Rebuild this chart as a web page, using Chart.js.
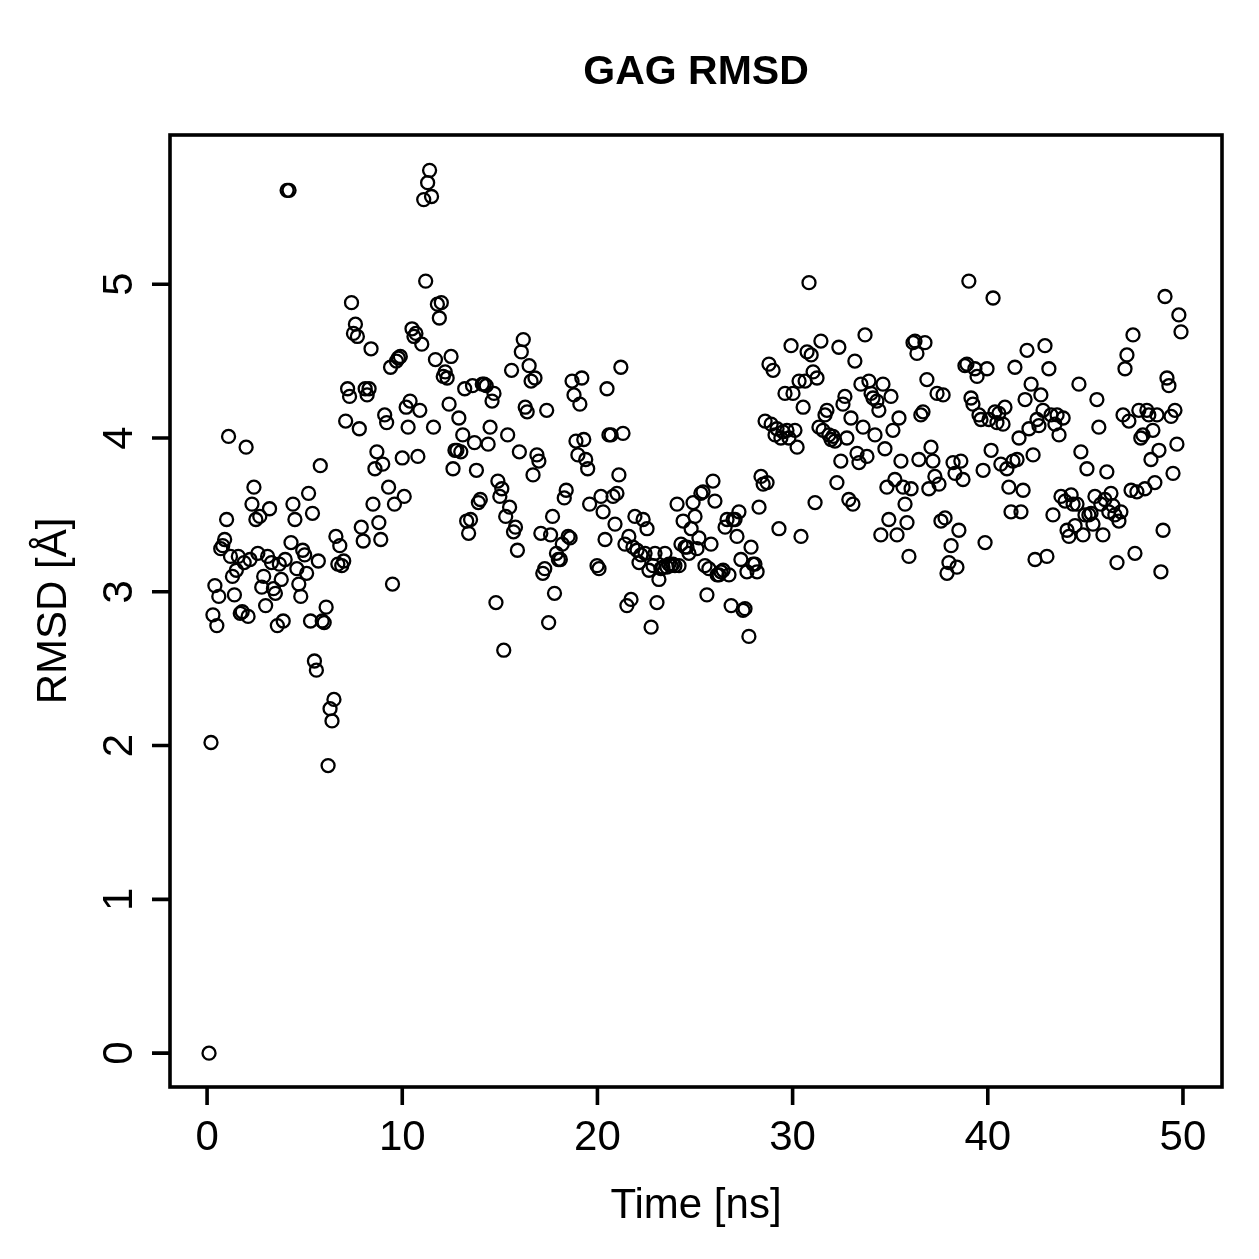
<!DOCTYPE html>
<html>
<head>
<meta charset="utf-8">
<title>GAG RMSD</title>
<script src="https://cdn.jsdelivr.net/npm/chart.js@4.4.1/dist/chart.umd.min.js"></script>
<style>
  html, body { margin: 0; padding: 0; background: #fff; }
  #wrap { width: 1259px; height: 1259px; }
</style>
</head>
<body>
<div id="wrap"><canvas id="rmsdChart" width="1259" height="1259"></canvas></div>
<script>
// textos
const chartTitle = "GAG RMSD";
const xLabel = "Time [ns]";
const yLabel = "RMSD [Å]";

// eixos
const xTicks = [0, 10, 20, 30, 40, 50];
const yTicks = [0, 1, 2, 3, 4, 5];
const xRange = [-1.9, 52.0];
const yRange = [-0.22, 5.97];

// primeira parte da trajetória (0.1 - 19.6 ns)
const timeEarly = [
  0.1, 0.2, 0.3, 0.4, 0.5, 0.6, 0.7, 0.8, 0.9, 1.0,
  1.1, 1.2, 1.3, 1.4, 1.5, 1.6, 1.7, 1.8, 1.9, 2.0,
  2.1, 2.2, 2.3, 2.4, 2.5, 2.6, 2.7, 2.8, 2.9, 3.0,
  3.1, 3.2, 3.3, 3.4, 3.5, 3.6, 3.7, 3.8, 3.9, 4.0,
  4.1, 4.2, 4.3, 4.4, 4.5, 4.6, 4.7, 4.8, 4.9, 5.0,
  5.1, 5.2, 5.3, 5.4, 5.5, 5.6, 5.7, 5.8, 5.9, 6.0,
  6.1, 6.2, 6.3, 6.4, 6.5, 6.6, 6.7, 6.8, 6.9, 7.0,
  7.1, 7.2, 7.3, 7.4, 7.5, 7.6, 7.7, 7.8, 7.9, 8.0,
  8.1, 8.2, 8.3, 8.4, 8.5, 8.6, 8.7, 8.8, 8.9, 9.0,
  9.1, 9.2, 9.3, 9.4, 9.5, 9.6, 9.7, 9.8, 9.9, 10.0,
  10.1, 10.2, 10.3, 10.4, 10.5, 10.6, 10.7, 10.8, 10.9, 11.0,
  11.1, 11.2, 11.3, 11.4, 11.5, 11.6, 11.7, 11.8, 11.9, 12.0,
  12.1, 12.2, 12.3, 12.4, 12.5, 12.6, 12.7, 12.8, 12.9, 13.0,
  13.1, 13.2, 13.3, 13.4, 13.5, 13.6, 13.7, 13.8, 13.9, 14.0,
  14.1, 14.2, 14.3, 14.4, 14.5, 14.6, 14.7, 14.8, 14.9, 15.0,
  15.1, 15.2, 15.3, 15.4, 15.5, 15.6, 15.7, 15.8, 15.9, 16.0,
  16.1, 16.2, 16.3, 16.4, 16.5, 16.6, 16.7, 16.8, 16.9, 17.0,
  17.1, 17.2, 17.3, 17.4, 17.5, 17.6, 17.7, 17.8, 17.9, 18.0,
  18.1, 18.2, 18.3, 18.4, 18.5, 18.6, 18.7, 18.8, 18.9, 19.0,
  19.1, 19.2, 19.3, 19.4, 19.5, 19.6
];
const rmsdEarly = [
  0.00, 2.02, 2.85, 3.04, 2.78, 2.97, 3.28, 3.30, 3.34, 3.47,
  4.01, 3.23, 3.10, 2.98, 3.14, 3.23, 2.86, 2.87, 3.19, 3.94,
  2.84, 3.21, 3.57, 3.68, 3.47, 3.25, 3.49, 3.03, 3.10, 2.91,
  3.23, 3.54, 3.19, 3.02, 2.99, 2.78, 3.18, 3.08, 2.81, 3.21,
  5.61, 5.61, 3.32, 3.57, 3.47, 3.15, 3.05, 2.97, 3.27, 3.24,
  3.12, 3.64, 2.81, 3.51, 2.55, 2.49, 3.20, 3.82, 2.81, 2.80,
  2.90, 1.87, 2.24, 2.16, 2.30, 3.36, 3.18, 3.30, 3.17, 3.20,
  4.11, 4.32, 4.27, 4.88, 4.68, 4.74, 4.66, 4.06, 3.42, 3.33,
  4.32, 4.28, 4.32, 4.58, 3.57, 3.80, 3.91, 3.45, 3.34, 3.83,
  4.15, 4.10, 3.68, 4.46, 3.05, 3.57, 4.50, 4.52, 4.53, 3.87,
  3.62, 4.20, 4.07, 4.24, 4.71, 4.66, 4.68, 3.88, 4.18, 4.61,
  5.55, 5.02, 5.66, 5.74, 5.57, 4.07, 4.51, 4.87, 4.78, 4.88,
  4.40, 4.43, 4.39, 4.22, 4.53, 3.80, 3.92, 3.92, 4.13, 3.91,
  4.02, 4.32, 3.46, 3.38, 3.47, 4.34, 3.97, 3.79, 3.58, 3.60,
  4.35, 4.35, 4.34, 3.96, 4.07, 4.24, 4.29, 2.93, 3.72, 3.62,
  3.67, 2.62, 3.49, 4.02, 3.55, 4.44, 3.39, 3.42, 3.27, 3.91,
  4.56, 4.64, 4.20, 4.17, 4.47, 4.37, 3.76, 4.39, 3.89, 3.85,
  3.38, 3.12, 3.15, 4.18, 2.80, 3.37, 3.49, 2.99, 3.25, 3.21,
  3.21, 3.31, 3.61, 3.66, 3.36, 3.35, 4.37, 4.28, 3.98, 3.89,
  4.22, 4.39, 3.99, 3.86, 3.80, 3.57
];

// segunda parte da trajetória (20 - 50 ns)
const timeLate = [
  19.98, 20.08, 20.18, 20.29, 20.39, 20.49, 20.59, 20.70, 20.80, 20.90,
  21.00, 21.10, 21.20, 21.31, 21.41, 21.51, 21.61, 21.72, 21.82, 21.92,
  22.03, 22.13, 22.23, 22.34, 22.44, 22.54, 22.64, 22.75, 22.85, 22.95,
  23.05, 23.15, 23.25, 23.36, 23.46, 23.56, 23.66, 23.77, 23.87, 23.97,
  24.08, 24.18, 24.28, 24.39, 24.49, 24.59, 24.69, 24.80, 24.90, 25.00,
  25.10, 25.20, 25.30, 25.41, 25.51, 25.61, 25.71, 25.82, 25.92, 26.02,
  26.13, 26.23, 26.33, 26.44, 26.54, 26.64, 26.74, 26.85, 26.95, 27.05,
  27.15, 27.25, 27.35, 27.46, 27.56, 27.66, 27.76, 27.87, 27.97, 28.07,
  28.18, 28.28, 28.38, 28.49, 28.59, 28.69, 28.79, 28.90, 29.00, 29.10,
  29.20, 29.30, 29.40, 29.51, 29.61, 29.71, 29.81, 29.92, 30.02, 30.12,
  30.23, 30.33, 30.43, 30.54, 30.64, 30.74, 30.84, 30.95, 31.05, 31.15,
  31.25, 31.35, 31.45, 31.56, 31.66, 31.76, 31.86, 31.97, 32.07, 32.17,
  32.27, 32.37, 32.47, 32.58, 32.68, 32.78, 32.88, 32.99, 33.09, 33.19,
  33.30, 33.40, 33.50, 33.61, 33.71, 33.81, 33.91, 34.02, 34.12, 34.22,
  34.32, 34.42, 34.52, 34.63, 34.73, 34.83, 34.93, 35.04, 35.14, 35.24,
  35.35, 35.45, 35.55, 35.66, 35.76, 35.86, 35.96, 36.07, 36.17, 36.27,
  36.37, 36.47, 36.57, 36.68, 36.78, 36.88, 36.98, 37.09, 37.19, 37.29,
  37.40, 37.50, 37.60, 37.71, 37.81, 37.91, 38.01, 38.12, 38.22, 38.32,
  38.42, 38.52, 38.62, 38.73, 38.83, 38.93, 39.03, 39.14, 39.24, 39.34,
  39.45, 39.55, 39.65, 39.76, 39.86, 39.96, 40.06, 40.17, 40.27, 40.37,
  40.47, 40.57, 40.67, 40.78, 40.88, 40.98, 41.08, 41.19, 41.29, 41.39,
  41.50, 41.60, 41.70, 41.81, 41.91, 42.01, 42.11, 42.22, 42.32, 42.42,
  42.52, 42.62, 42.72, 42.83, 42.93, 43.03, 43.13, 43.24, 43.34, 43.44,
  43.55, 43.65, 43.75, 43.86, 43.96, 44.06, 44.16, 44.27, 44.37, 44.47,
  44.57, 44.67, 44.77, 44.88, 44.98, 45.08, 45.18, 45.29, 45.39, 45.49,
  45.59, 45.69, 45.79, 45.90, 46.00, 46.10, 46.20, 46.31, 46.41, 46.51,
  46.62, 46.72, 46.82, 46.93, 47.03, 47.13, 47.23, 47.34, 47.44, 47.54,
  47.64, 47.74, 47.84, 47.95, 48.05, 48.15, 48.25, 48.36, 48.46, 48.56,
  48.67, 48.77, 48.87, 48.98, 49.08, 49.18, 49.28, 49.39, 49.49, 49.59,
  49.69, 49.79, 49.90
];
const rmsdLate = [
  3.17, 3.15, 3.62, 3.52, 3.34, 4.32, 4.02, 4.02, 3.62, 3.44,
  3.64, 3.76, 4.46, 4.03, 3.31, 2.91, 3.36, 2.95, 3.29, 3.49,
  3.27, 3.19, 3.24, 3.47, 3.25, 3.41, 3.14, 2.77, 3.17, 3.25,
  2.93, 3.08, 3.15, 3.16, 3.25, 3.16, 3.18, 3.17, 3.18, 3.17,
  3.57, 3.17, 3.31, 3.46, 3.29, 3.29, 3.25, 3.41, 3.58, 3.49,
  3.28, 3.35, 3.64, 3.65, 3.17, 2.98, 3.15, 3.31, 3.72, 3.59,
  3.11, 3.11, 3.13, 3.14, 3.42, 3.47, 3.11, 2.91, 3.47, 3.47,
  3.36, 3.52, 3.21, 2.88, 2.89, 3.13, 2.71, 3.29, 3.18, 3.18,
  3.13, 3.55, 3.75, 3.70, 4.11, 3.71, 4.48, 4.09, 4.44, 4.02,
  4.06, 3.41, 4.00, 4.04, 4.29, 4.05, 4.00, 4.60, 4.29, 4.05,
  3.94, 4.37, 3.36, 4.20, 4.37, 4.56, 5.01, 4.54, 4.43, 3.58,
  4.39, 4.07, 4.63, 4.05, 4.15, 4.18, 4.02, 3.99, 4.01, 3.98,
  3.71, 4.59, 3.85, 4.22, 4.27, 4.00, 3.60, 4.13, 3.57, 4.50,
  3.90, 3.84, 4.35, 4.07, 4.67, 3.88, 4.37, 4.29, 4.26, 4.02,
  4.24, 4.18, 3.37, 4.35, 3.93, 3.68, 3.47, 4.27, 4.05, 3.73,
  3.37, 4.13, 3.85, 3.68, 3.57, 3.45, 3.23, 3.67, 4.62, 4.63,
  4.55, 3.86, 4.15, 4.17, 4.62, 4.38, 3.67, 3.94, 3.85, 3.75,
  4.29, 3.70, 3.46, 4.28, 3.48, 3.12, 3.19, 3.30, 3.84, 3.77,
  3.16, 3.40, 3.85, 3.73, 4.47, 4.48, 5.02, 4.26, 4.22, 4.45,
  4.40, 4.15, 4.12, 3.79, 3.32, 4.45, 4.12, 3.92, 4.91, 4.17,
  4.10, 4.16, 3.83, 4.09, 4.20, 3.80, 3.68, 3.52, 3.85, 4.46,
  3.86, 4.00, 3.52, 3.66, 4.25, 4.57, 4.06, 4.35, 3.89, 3.21,
  4.12, 4.08, 4.28, 4.18, 4.60, 3.23, 4.45, 4.15, 3.50, 4.09,
  4.15, 4.02, 3.62, 4.13, 3.59, 3.40, 3.36, 3.63, 3.57, 3.43,
  3.57, 4.35, 3.91, 3.37, 3.50, 3.80, 3.50, 3.51, 3.44, 3.62,
  4.25, 4.07, 3.57, 3.37, 3.60, 3.78, 3.52, 3.64, 3.56, 3.50,
  3.19, 3.46, 3.52, 4.15, 4.45, 4.54, 4.11, 3.66, 4.67, 3.25,
  3.65, 4.18, 4.00, 4.02, 3.67, 4.18, 4.15, 3.86, 4.05, 3.71,
  4.15, 3.92, 3.13, 3.40, 4.92, 4.39, 4.34, 4.14, 3.77, 4.18,
  3.96, 4.80, 4.69
];

const FONT = '"Liberation Sans", Arial, Helvetica, sans-serif';

// junta tempo e rmsd em pontos
const toPoints = (times, values) =>
  times.map((t, i) => ({ x: t, y: values[i] })).filter((p) => p.y !== undefined);

const points = toPoints(timeEarly, rmsdEarly).concat(toPoints(timeLate, rmsdLate));

// desenha moldura, ticks e textos no estilo do R base
const rStyleAxes = {
  id: 'rStyleAxes',
  afterDraw(chart) {
    const { ctx, chartArea: a, scales: { x, y } } = chart;
    ctx.save();
    ctx.strokeStyle = '#000';
    ctx.fillStyle = '#000';
    ctx.lineWidth = 3.6;
    ctx.strokeRect(a.left, a.top, a.right - a.left, a.bottom - a.top);

    ctx.beginPath();
    xTicks.forEach((v) => {
      const px = x.getPixelForValue(v);
      ctx.moveTo(px, a.bottom);
      ctx.lineTo(px, a.bottom + 18);
    });
    yTicks.forEach((v) => {
      const py = y.getPixelForValue(v);
      ctx.moveTo(a.left, py);
      ctx.lineTo(a.left - 18, py);
    });
    ctx.stroke();

    ctx.textAlign = 'center';
    ctx.textBaseline = 'alphabetic';
    ctx.font = `42px ${FONT}`;
    xTicks.forEach((v) => ctx.fillText(String(v), x.getPixelForValue(v), a.bottom + 63));
    yTicks.forEach((v) => {
      ctx.save();
      ctx.translate(a.left - 38, y.getPixelForValue(v));
      ctx.rotate(-Math.PI / 2);
      ctx.fillText(String(v), 0, 0);
      ctx.restore();
    });

    ctx.fillText(xLabel, (a.left + a.right) / 2, a.bottom + 131);
    ctx.save();
    ctx.translate(a.left - 104, (a.top + a.bottom) / 2);
    ctx.rotate(-Math.PI / 2);
    ctx.fillText(yLabel, 0, 0);
    ctx.restore();

    ctx.font = `bold 41px ${FONT}`;
    ctx.fillText(chartTitle, (a.left + a.right) / 2, 84);
    ctx.restore();
  }
};

new Chart(document.getElementById('rmsdChart').getContext('2d'), {
  type: 'scatter',
  data: {
    datasets: [{
      data: points,
      pointStyle: 'circle',
      pointRadius: 6.5,
      pointHoverRadius: 6.5,
      pointBorderWidth: 2.3,
      pointBorderColor: '#000',
      pointBackgroundColor: 'rgba(0,0,0,0)',
      borderColor: '#000',
      backgroundColor: 'rgba(0,0,0,0)',
    }],
  },
  options: {
    responsive: false,
    animation: false,
    devicePixelRatio: 1,
    layout: { padding: { left: 170, top: 135, right: 37, bottom: 172 } },
    plugins: {
      legend: { display: false },
      tooltip: { enabled: false },
    },
    scales: {
      x: { type: 'linear', display: false, min: xRange[0], max: xRange[1] },
      y: { type: 'linear', display: false, min: yRange[0], max: yRange[1] },
    },
  },
  plugins: [rStyleAxes],
});
</script>
</body>
</html>
